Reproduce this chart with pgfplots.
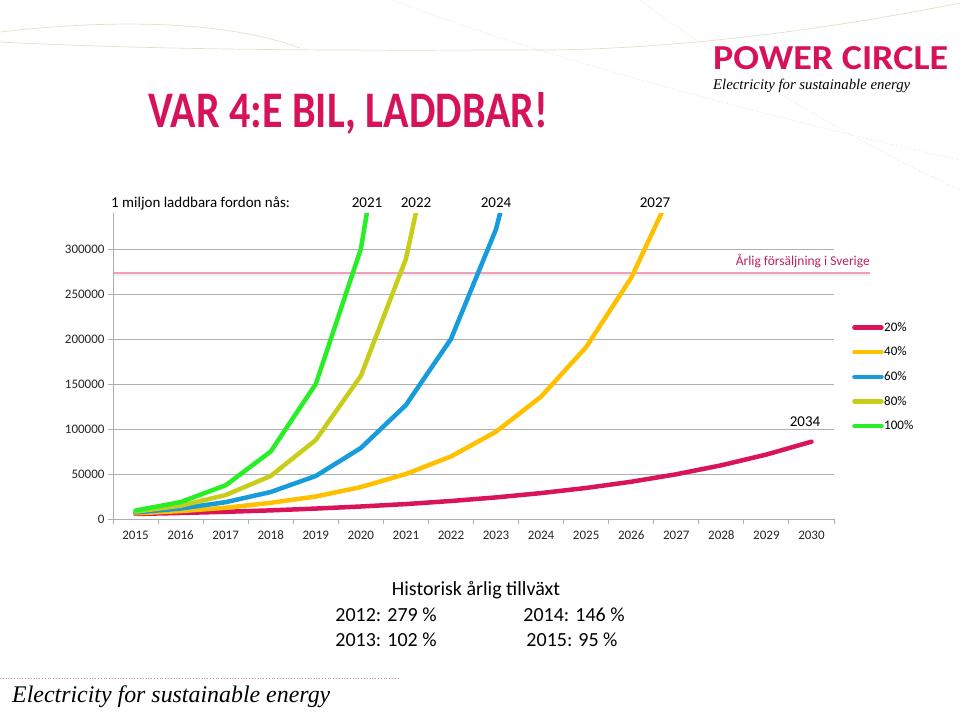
\documentclass[border=0pt]{standalone}
\usepackage{pgfplots}
\pgfplotsset{compat=1.18}
\usepackage{fontspec}
\setmainfont{Carlito}
\newfontfamily\hand{Liberation Serif}
\definecolor{c20}{RGB}{218,20,90}
\definecolor{c40}{RGB}{255,192,0}
\definecolor{c60}{RGB}{22,155,220}
\definecolor{c80}{RGB}{200,205,25}
\definecolor{c100}{RGB}{40,238,40}
\definecolor{brand}{RGB}{214,18,90}
\definecolor{salestext}{RGB}{190,30,100}
\definecolor{gridc}{RGB}{175,175,175}
\definecolor{beige}{RGB}{228,222,200}
\definecolor{decogray}{RGB}{215,215,215}
\begin{document}
\begin{tikzpicture}
\useasboundingbox (0,0) rectangle (960pt,-717pt);
% decorative background curves
\draw[color=beige, line width=0.7pt] (0pt,-32pt) .. controls (120pt,-18pt) and (230pt,-22pt) .. (300pt,-48pt);
\draw[color=beige, line width=0.7pt] (0pt,-42pt) .. controls (200pt,-52pt) and (400pt,-50pt) .. (550pt,-50pt) .. controls (700pt,-48pt) and (850pt,-25pt) .. (960pt,-3pt);
\draw[color=decogray, line width=0.6pt, dotted] (392pt,0pt) .. controls (550pt,-60pt) and (780pt,-120pt) .. (960pt,-160pt);
\draw[color=decogray, line width=0.6pt, dotted] (640pt,0pt) .. controls (720pt,-60pt) and (850pt,-140pt) .. (960pt,-190pt);
% annual sales reference line
\draw[color=gray!12, line width=2.2pt] (113pt,-274.6pt) -- (870pt,-274.6pt);
\draw[color=brand!40, line width=1.1pt] (113pt,-273pt) -- (870pt,-273pt);
\begin{axis}[
  at={(113pt,-519pt)}, anchor=south west,
  scale only axis, width=721pt, height=306pt,
  xmin=-0.5, xmax=15.5, ymin=0, ymax=340000,
  axis lines*=left,
  axis line style={draw=gridc, line width=0.9pt},
  ymajorgrids, grid style={draw=gridc, line width=0.9pt},
  xtick={-0.5,0.5,...,15.5},
  x tick label as interval,
  xticklabels={2015,2016,2017,2018,2019,2020,2021,2022,2023,2024,2025,2026,2027,2028,2029,2030},
  ytick={0,50000,100000,150000,200000,250000,300000},
  scaled y ticks=false,
  tick align=outside,
  major tick length=5pt,
  tick style={draw=gridc, line width=0.9pt},
  /pgf/number format/assume math mode=true,
  y tick label style={/pgf/number format/.cd, fixed, set thousands separator={}},
  tick label style={font=\fontsize{13}{15}\selectfont, color=black!85},
  xticklabel style={text height=9.5pt, text depth=2.5pt, yshift=-2pt},
  legend style={at={(1.025,0.645)}, anchor=north west, draw=none, fill=none,
    row sep=13.3pt, inner sep=0pt,
    nodes={inner sep=0.5pt, font=\fontsize{13}{15}\selectfont}},
  legend cell align=left,
  legend image code/.code={\draw[#1, line cap=round] (0pt,0pt) -- (27pt,0pt);},
  every axis plot/.append style={line width=4.5pt, line join=round, line cap=round},
]
\addplot[c20] coordinates {(0,5600) (1,6700) (2,8000) (3,9600) (4,11600) (5,13900) (6,16600) (7,20000) (8,24000) (9,28800) (10,34500) (11,41400) (12,49700) (13,59700) (14,71600) (15,85900)};
\addlegendentry{20\%}
\addplot[c40] coordinates {(0,6300) (1,8800) (2,12500) (3,18000) (4,25000) (5,35500) (6,50000) (7,69500) (8,97000) (9,136000) (10,191000) (11,268000) (12,375000)};
\addlegendentry{40\%}
\addplot[c60] coordinates {(0,7300) (1,11700) (2,18700) (3,30000) (4,47800) (5,78900) (6,126600) (7,200000) (8,322000) (9,520000)};
\addlegendentry{60\%}
\addplot[c80] coordinates {(0,8200) (1,14800) (2,26600) (3,47800) (4,87800) (5,159000) (6,289000) (7,520000)};
\addlegendentry{80\%}
\addplot[c100] coordinates {(0,9400) (1,18800) (2,37500) (3,75000) (4,150000) (5,300000) (6,600000)};
\addlegendentry{100\%}
\end{axis}
% texts
\node[anchor=west, inner sep=0pt, font=\fontsize{15}{18}\selectfont] at (111pt,-203pt) {1 miljon laddbara fordon nås:};
\node[inner sep=0pt, font=\fontsize{15}{18}\selectfont] at (367pt,-203pt) {2021};
\node[inner sep=0pt, font=\fontsize{15}{18}\selectfont] at (416pt,-203pt) {2022};
\node[inner sep=0pt, font=\fontsize{15}{18}\selectfont] at (496pt,-203pt) {2024};
\node[inner sep=0pt, font=\fontsize{15}{18}\selectfont] at (655pt,-203pt) {2027};
\node[inner sep=0pt, font=\fontsize{15}{18}\selectfont] at (805pt,-422pt) {2034};
\node[anchor=east, inner sep=0pt, font=\fontsize{13.5}{16}\selectfont, text=salestext] at (870pt,-261pt) {Årlig försäljning i Sverige};
% title
\node[anchor=west, inner sep=0pt, text=brand] at (148pt,-113pt) {\resizebox{400pt}{35pt}{\bfseries VAR 4:E BIL, LADDBAR!}};
% logo
\node[anchor=west, inner sep=0pt, text=brand] at (713pt,-58pt) {\resizebox{235pt}{23pt}{\bfseries POWER CIRCLE}};
\node[anchor=west, inner sep=0pt] at (713pt,-86pt) {\resizebox{197pt}{!}{\hand\itshape Electricity for sustainable energy}};
% bottom text
\node[inner sep=0pt, font=\fontsize{20}{24}\selectfont] at (476pt,-590pt) {Historisk årlig tillväxt};
\node[inner sep=0pt, font=\fontsize{20}{24}\selectfont] at (386pt,-615pt) {2012: 279 \%};
\node[inner sep=0pt, font=\fontsize{20}{24}\selectfont] at (574pt,-615pt) {2014: 146 \%};
\node[inner sep=0pt, font=\fontsize{20}{24}\selectfont] at (386pt,-640pt) {2013: 102 \%};
\node[inner sep=0pt, font=\fontsize{20}{24}\selectfont] at (572pt,-640pt) {2015: 95 \%};
% footer
\draw[color=brand!50, line width=0.8pt, dotted] (0pt,-678pt) -- (400pt,-678pt);
\node[anchor=west, inner sep=0pt] at (12pt,-697pt) {\resizebox{318pt}{!}{\hand\itshape Electricity for sustainable energy}};
\end{tikzpicture}
\end{document}
